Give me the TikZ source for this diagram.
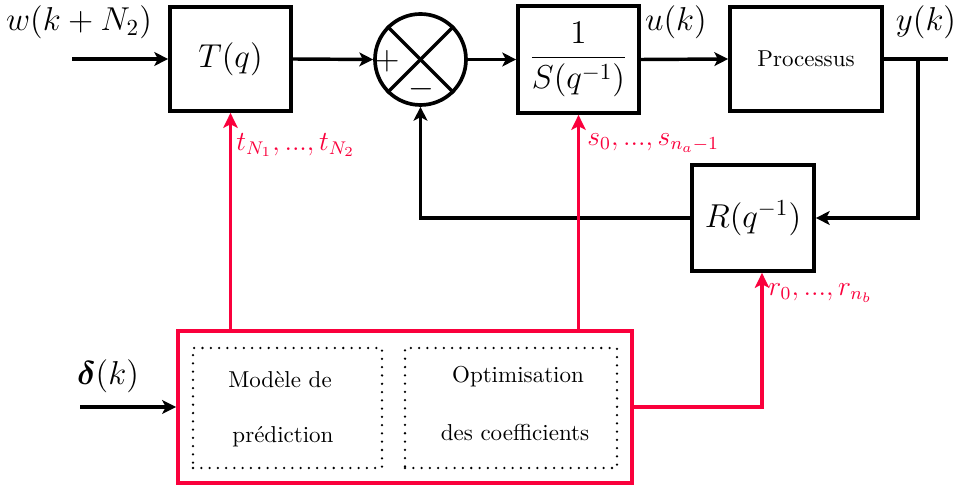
\documentclass[tikz,border=0pt]{standalone}
\usepackage{amsmath,bm}
\usetikzlibrary{arrows.meta,calc}
\definecolor{myred}{RGB}{250,0,60}
\newdimen\pxu \pxu=0.4348pt
\begin{document}
\begin{tikzpicture}[x=0.4348pt,y=-0.4348pt,
  blk/.style={draw,line width=1.6pt,inner sep=0pt,font=\Large},
  sig/.style={line width=1.5pt,-{Stealth[length=6pt,width=6pt,inset=1.5pt]}},
  plain/.style={line width=1.5pt},
  rsig/.style={line width=1.6pt,myred,-{Stealth[length=6.5pt,width=6.2pt,inset=1.5pt]}},
  rlab/.style={text=myred,font=\large,anchor=west,inner sep=0pt},
  lab/.style={font=\Large,inner sep=0pt},
  dotbox/.style={draw,line width=1.1pt,dash pattern=on 0pt off 3.6pt,line cap=round,inner sep=0pt},
  txt/.style={font=\normalsize,inner sep=0pt}]
\useasboundingbox (0,0) rectangle (963,486);

% blocks
\node[blk,minimum width=121*\pxu,minimum height=104*\pxu] (T) at (230.5,59) {$T(q)$};
\node[blk,circle,minimum size=91*\pxu] (sum) at (420.5,59.5) {};
\node[blk,minimum width=121*\pxu,minimum height=107*\pxu] (S) at (578.5,59.5) {$\dfrac{1}{S(q^{-1})}$};
\node[blk,font=\normalsize,minimum width=152*\pxu,minimum height=104*\pxu] (P) at (806,59) {Processus};
\node[blk,minimum width=122*\pxu,minimum height=106*\pxu] (R) at (753,218) {$R(q^{-1})$};
\node[draw=myred,line width=1.7pt,minimum width=454*\pxu,minimum height=152*\pxu] (big) at (405,407) {};
\node[dotbox,minimum width=189*\pxu,minimum height=120*\pxu] (dl) at (287.5,408) {};
\node[dotbox,minimum width=212*\pxu,minimum height=120*\pxu] (dr) at (511,408) {};

% summation details
\draw[line width=1.5pt] (sum.north west) -- (sum.south east);
\draw[line width=1.5pt] (sum.south west) -- (sum.north east);
\node[font=\Large,inner sep=0pt] (plus) at (387,61) {$+$};
\node[font=\Large,inner sep=0pt] (minus) at (421,89) {$-$};

% texts in the red box
\node[txt] (t1) at (280,380) {Modèle de};
\node[txt] (t2) at (283,437) {prédiction};
\node[txt] (t3) at (518,377) {Optimisation};
\node[txt] (t4) at (515,433) {des coefficients};

% free ends
\coordinate (win) at (72,59);
\coordinate (yout) at (948,59);
\coordinate (tap) at (918,59);
\coordinate (din) at (80,407);
\coordinate (rx) at (762,0);

% forward path
\draw[sig] (win) -- (T.west);
\draw[sig] (T.east) -- (sum.west);
\draw[sig] (sum.east) -- (S.west);
\draw[sig] (S.east) -- (P.west);
\draw[plain] (P.east) -- (yout);
\draw[sig] (tap) |- (R.east);
\draw[sig] (R.west) -| (sum.south);
\draw[sig] (din) -- (big.west);

% red adaptation
\draw[rsig] (big.north -| T.south) -- (T.south);
\draw[rsig] (big.north -| S.south) -- (S.south);
\draw[rsig] (big.east) -| (rx |- R.south);

% labels
\node[lab] (lw) at (79,22) {$w(k+N_2)$};
\node[lab] (lu) at (676,22) {$u(k)$};
\node[lab] (ly) at (926,22) {$y(k)$};
\node[lab] (ld) at (108,376) {$\bm{\delta}(k)$};
\node[rlab] (lt) at (236,145) {$t_{N_1},...,t_{N_2}$};
\node[rlab] (ls) at (587,143) {$s_0,...,s_{n_a-1}$};
\node[rlab] (lr) at (768,293) {$r_0,...,r_{n_b}$};
\end{tikzpicture}
\end{document}
